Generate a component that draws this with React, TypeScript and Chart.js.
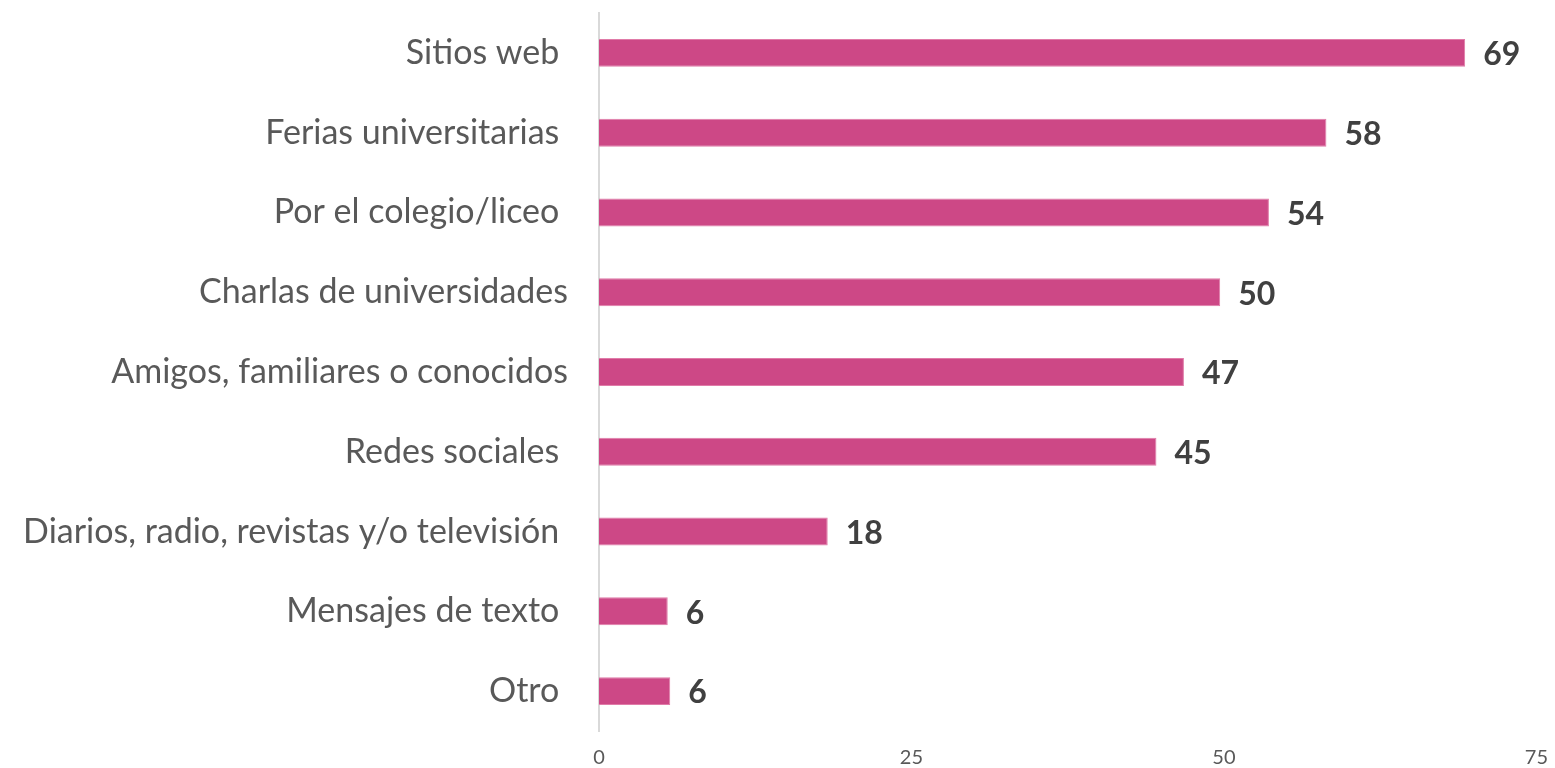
import React, { useEffect, useRef } from "react";
import { Chart, registerables } from "chart.js";

Chart.register(...registerables);

const categories = [
  "Sitios web ",
  "Ferias universitarias ",
  "Por el colegio/liceo ",
  "Charlas de universidades",
  "Amigos, familiares o conocidos",
  "Redes sociales ",
  "Diarios, radio, revistas y/o televisión ",
  "Mensajes de texto ",
  "Otro ",
];
const values = [69.3, 58.2, 53.6, 49.7, 46.8, 44.6, 18.3, 5.5, 5.7];
const valueLabels = ["69", "58", "54", "50", "47", "45", "18", "6", "6"];
const xTicks = [0, 25, 50, 75];

const FONT = "Lato, 'Open Sans', sans-serif";

const valueLabelPlugin = {
  id: "valueLabels",
  afterDatasetsDraw(chart: any) {
    const ctx = chart.ctx;
    const meta = chart.getDatasetMeta(0);
    ctx.save();
    ctx.font = `bold 32px ${FONT}`;
    ctx.fillStyle = "#404040";
    ctx.textAlign = "left";
    ctx.textBaseline = "middle";
    meta.data.forEach((bar: any, i: number) => {
      ctx.fillText(valueLabels[i], bar.x + 18, bar.y + 2);
    });
    ctx.restore();
  },
};

export default function App() {
  const ref = useRef<HTMLCanvasElement>(null);
  useEffect(() => {
    document.body.style.margin = "0";
    const chart = new Chart(ref.current!, {
      type: "bar",
      data: {
        labels: categories,
        datasets: [
          {
            data: values,
            backgroundColor: "#CD4886",
            borderColor: "#E07BA8",
            borderWidth: 1,
            barPercentage: 0.35,
            categoryPercentage: 1,
          },
        ],
      },
      options: {
        indexAxis: "y",
        animation: false,
        responsive: true,
        maintainAspectRatio: false,
        layout: { padding: { top: 13, right: 15, bottom: 0, left: 0 } },
        plugins: {
          legend: { display: false },
          tooltip: { enabled: false },
        },
        scales: {
          x: {
            min: 0,
            max: 75,
            afterBuildTicks: (scale: any) => {
              scale.ticks = xTicks.map((v) => ({ value: v }));
            },
            afterFit: (scale: any) => {
              scale.height = 37;
            },
            grid: { display: false },
            border: { display: false },
            ticks: {
              color: "#595959",
              font: { family: FONT, size: 20 },
              padding: 7,
            },
          },
          y: {
            grid: { display: false, drawTicks: false },
            border: { display: true, color: "#D9D9D9", width: 2 },
            afterFit: (scale: any) => {
              scale.width = 599;
              scale.paddingTop = 0;
              scale.paddingBottom = 0;
            },
            ticks: {
              color: "#595959",
              font: { family: FONT, size: 34 },
              padding: 31,
            },
          },
        },
      },
      plugins: [valueLabelPlugin],
    });
    return () => chart.destroy();
  }, []);
  return (
    <div style={{ position: "relative", width: 1555, height: 768 }}>
      <canvas ref={ref} />
    </div>
  );
}
